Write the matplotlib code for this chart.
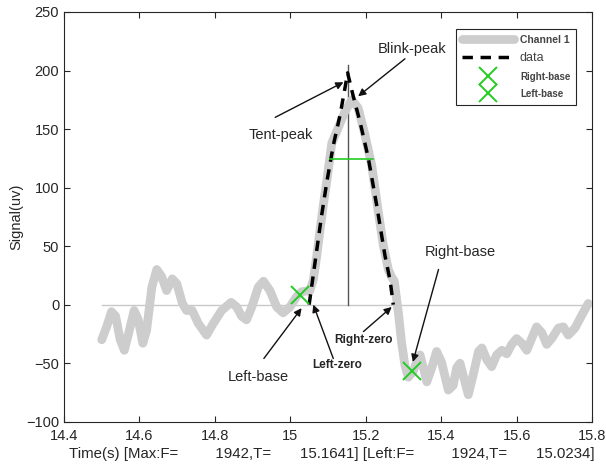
import matplotlib.pyplot as plt

plt.rcParams['font.family'] = ['Liberation Sans', 'DejaVu Sans']

# channel signal (grey)
sig_t = [14.500, 14.513, 14.526, 14.537, 14.549, 14.560, 14.571, 14.586, 14.597,
         14.609, 14.619, 14.633, 14.646, 14.659, 14.672, 14.687, 14.699, 14.714,
         14.725, 14.740, 14.756, 14.778, 14.796, 14.818, 14.843, 14.858, 14.871,
         14.884, 14.898, 14.915, 14.929, 14.946, 14.964, 14.981, 14.999, 15.017,
         15.030, 15.052, 15.061, 15.070, 15.079, 15.088, 15.097, 15.110, 15.127,
         15.145, 15.163, 15.180, 15.198, 15.216, 15.233, 15.247, 15.260, 15.268,
         15.276, 15.281, 15.287, 15.295, 15.304, 15.313, 15.326, 15.335, 15.344,
         15.353, 15.362, 15.375, 15.388, 15.401, 15.419, 15.432, 15.441, 15.450,
         15.463, 15.472, 15.485, 15.499, 15.508, 15.521, 15.534, 15.547, 15.561,
         15.574, 15.587, 15.600, 15.614, 15.627, 15.640, 15.653, 15.667, 15.680,
         15.693, 15.711, 15.724, 15.737, 15.755, 15.773, 15.790]
sig_v = [-30, -19, -6, -10, -30, -39, -25, -5, -13,
         -33, -22, 15, 30, 24, 12, 22, 18, 1,
         -5, -5, -16, -26, -16, -5, 2, -2, -10,
         -13, -2, 15, 20, 12, -2, -7, -2, 7,
         11, 12, 21, 41, 64, 86, 106, 138, 151,
         165, 175, 168, 145, 119, 80, 50, 30, 24,
         20, 7, -8, -32, -52, -62, -57, -49, -43,
         -54, -66, -54, -40, -49, -73, -69, -54, -50,
         -66, -77, -60, -40, -37, -47, -53, -43, -39,
         -42, -34, -29, -33, -39, -29, -19, -24, -34,
         -29, -20, -19, -26, -20, -9, 1]

# tent fit (black dashed)
data_t = [15.050, 15.066, 15.083, 15.097, 15.114, 15.132, 15.145, 15.152,
          15.167, 15.185, 15.207, 15.229, 15.251, 15.265, 15.273]
data_v = [0, 37, 76, 105, 136, 162, 185, 198,
          178, 156, 125, 85, 42, 20, 0]

right_base = (15.322, -57)
left_base = (15.025, 8)
peak_t = 15.153
peak_top = 205
half_t = [15.104, 15.220]
half_v = 124

xlabel = ('Time(s) [Max:F=         1942,T=       15.1641] '
          '[Left:F=         1924,T=       15.0234]')

fig = plt.figure(figsize=(6.06, 4.72), dpi=100)
ax = fig.add_axes([0.1056, 0.1066, 0.8713, 0.868])

ax.plot([14.5, 15.8], [0, 0], color='#c8c8c8', lw=1, zorder=1)
ax.plot([peak_t, peak_t], [0, peak_top], color='#555555', lw=1, zorder=2)

ax.plot(sig_t, sig_v, color='#cdcdcd', lw=6.3, solid_joinstyle='round',
        solid_capstyle='round', label='Channel 1', zorder=3)
ax.plot(data_t, data_v, color='black', lw=2.5, dashes=(3, 2.2),
        label='data', zorder=4)
ax.plot(half_t, [half_v, half_v], color='#22cc22', lw=1.2, zorder=5)
ax.plot(*right_base, 'x', color='#22cc22', ms=13, mew=1.4,
        label='Right-base', zorder=6)
ax.plot(*left_base, 'x', color='#22cc22', ms=13, mew=1.4,
        label='Left-base', zorder=6)

arrow = dict(arrowstyle='-|>', color='#111111', lw=1, mutation_scale=11,
             shrinkA=0, shrinkB=0)
notes = [
    ('Tent-peak', (15.141, 190), (14.960, 160), (14.975, 145), 10.5, 'normal'),
    ('Blink-peak', (15.180, 178), (15.304, 210), (15.322, 218), 10.5, 'normal'),
    ('Left-base', (15.030, -3), (14.930, -46), (14.914, -62), 10.5, 'normal'),
    ('Left-zero', (15.061, 0), (15.114, -46), (15.124, -52), 8.5, 'bold'),
    ('Right-zero', (15.269, -2), (15.194, -23), (15.193, -30), 8.5, 'bold'),
    ('Right-base', (15.325, -49), (15.393, 30), (15.450, 45), 10.5, 'normal'),
]
for txt, head, tail, pos, fs, fw in notes:
    ax.annotate('', xy=head, xytext=tail, arrowprops=arrow, zorder=7)
    ax.text(pos[0], pos[1], txt, fontsize=fs, fontweight=fw, color='#262626',
            ha='center', va='center')

ax.set_xlim(14.4, 15.8)
ax.set_ylim(-100, 250)
ax.set_xticks([14.4, 14.6, 14.8, 15, 15.2, 15.4, 15.6, 15.8])
ax.set_xticklabels(['14.4', '14.6', '14.8', '15', '15.2', '15.4', '15.6', '15.8'])
ax.set_yticks(range(-100, 251, 50))
ax.tick_params(direction='in', top=True, right=True, labelsize=10.5,
               colors='#262626', length=4, width=0.8)
ax.tick_params(axis='x', pad=5)
for s in ax.spines.values():
    s.set_color('#262626')
    s.set_linewidth(0.8)
ax.set_ylabel('Signal(uv)', fontsize=10.5, color='#262626', labelpad=2)
ax.set_xlabel(xlabel, fontsize=10.8, color='#262626', labelpad=4)
ax.xaxis.set_label_coords(0.508, -0.062)

leg = ax.legend(loc='upper right', bbox_to_anchor=(0.970, 0.958),
                fancybox=False, edgecolor='#262626', framealpha=1,
                handlelength=4.4, fontsize=8.5, borderpad=0.5,
                labelspacing=0.6, handletextpad=0.5, borderaxespad=0)
leg.get_frame().set_linewidth(0.8)
sizes = [7.5, 9, 7, 7]
weights = ['bold', 'normal', 'bold', 'bold']
for t, fs, fw in zip(leg.get_texts(), sizes, weights):
    t.set_fontsize(fs)
    t.set_fontweight(fw)
    t.set_color('#444444')

fig.savefig('out.png', dpi=100)
